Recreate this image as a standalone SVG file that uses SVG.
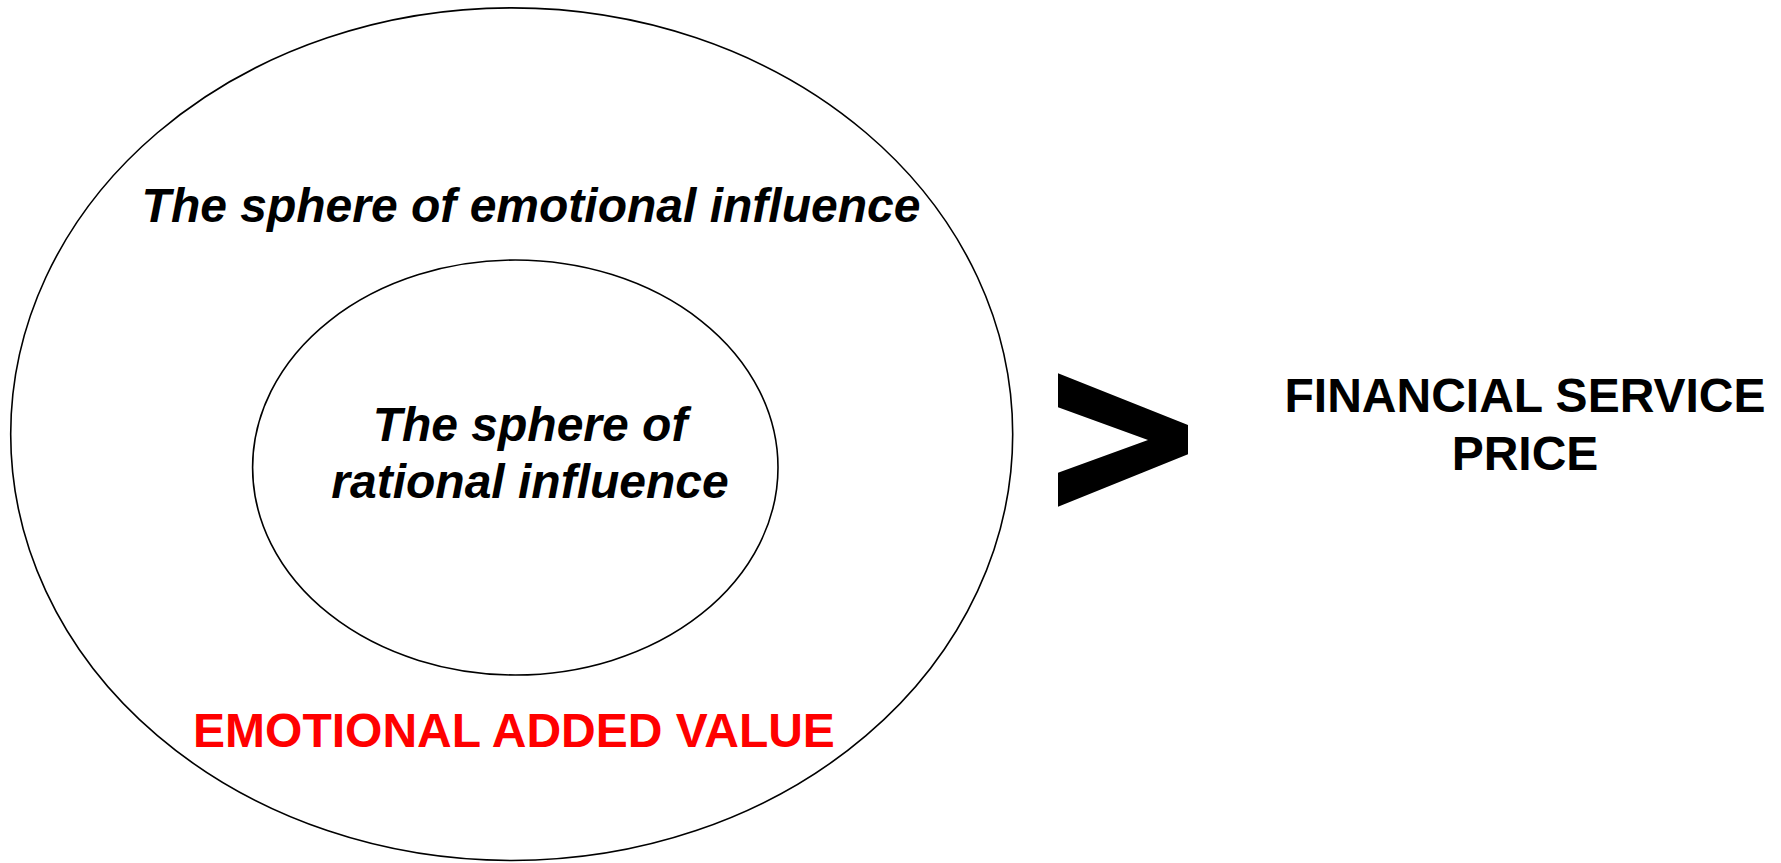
<svg xmlns="http://www.w3.org/2000/svg" width="1781" height="863" viewBox="0 0 1781 863">
<style>
.ring{fill:none;stroke:#000;stroke-width:1.6}
.t{font-family:"Liberation Sans",Arial,sans-serif;font-size:48px;font-weight:bold;text-anchor:middle;fill:#000}
.it{font-style:italic}
.red{fill:#ff0000}
</style>
<rect width="1781" height="863" fill="#fff"/>
<g id="outer">
<ellipse class="ring" cx="511.7" cy="434.2" rx="501" ry="426.3"/>
<text class="t it" x="531" y="222">The sphere of emotional influence</text>
<text class="t red" x="514" y="746.5">EMOTIONAL ADDED VALUE</text>
</g>
<g id="inner">
<ellipse class="ring" cx="515.3" cy="467.5" rx="262.7" ry="207.5"/>
<text class="t it" x="530" y="440.5">The sphere of</text>
<text class="t it" x="530" y="498">rational influence</text>
</g>
<g id="connectors">
<polygon id="greater" points="1058,373.3 1188,425 1188,454.3 1058,506.7 1058,472.7 1148,440 1058,407.3" fill="#000"/>
</g>
<g id="price">
<text class="t" x="1525" y="412">FINANCIAL SERVICE</text>
<text class="t" x="1525" y="469.5">PRICE</text>
</g>
</svg>
